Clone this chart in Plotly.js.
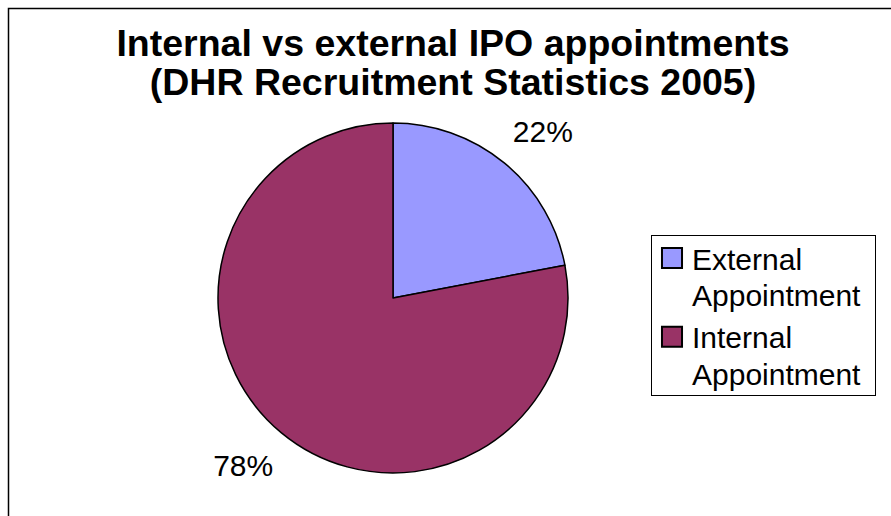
<!DOCTYPE html>
<html>
<head>
<meta charset="utf-8">
<script src="https://cdn.plot.ly/plotly-3.0.1.min.js"></script>
<style>
html,body{margin:0;padding:0;background:#fff;}
#chart{width:891px;height:516px;}
</style>
</head>
<body>
<div id="chart"></div>
<script>
// Data
const categories = ["External<br>Appointment", "Internal<br>Appointment"];
const shares = [22, 78];
const sliceColors = ["#9999FF", "#993366"];
const chartTitle = "Internal vs external IPO appointments<br>(DHR Recruitment Statistics 2005)";

const W = 891, H = 516;
const FONT = "Liberation Sans, Arial, Helvetica, sans-serif";
const PIE_CY = 298;

const trace = {
  type: "pie",
  labels: categories,
  values: shares,
  sort: false,
  direction: "clockwise",
  rotation: 0,
  textinfo: "percent",
  texttemplate: "%{percent:.0%}",
  textposition: "outside",
  outsidetextfont: {family: FONT, size: 30, color: "#000"},
  marker: {colors: sliceColors, line: {color: "#000", width: 1.5}},
  domain: {x: [218/W, 568/W], y: [43/H, 393/H]},
  hoverinfo: "none"
};

const layout = {
  width: W, height: H,
  margin: {l: 0, r: 0, t: 0, b: 0},
  paper_bgcolor: "#fff",
  font: {family: FONT, color: "#000"},
  title: {
    text: chartTitle,
    font: {family: FONT, size: 37.5, color: "#000", weight: "bold"},
    x: 453/W, xanchor: "center",
    yref: "container", y: 1 - 56/H, yanchor: "top"
  },
  showlegend: true,
  legend: {
    x: 651/W, xanchor: "left",
    y: 1 - 231/H, yanchor: "top",
    bordercolor: "#000", borderwidth: 1,
    bgcolor: "#fff",
    font: {family: FONT, size: 30, color: "#000"},
    valign: "top",
    tracegroupgap: 0
  },
  shapes: [{
    type: "rect", xref: "paper", yref: "paper",
    x0: 8.5/W, x1: 1.2, y0: -0.2, y1: 1 - 8.5/H,
    line: {color: "#000", width: 1.5}, fillcolor: "rgba(0,0,0,0)", layer: "below"
  }]
};

const gd = document.getElementById("chart");
Plotly.newPlot(gd, [trace], layout, {displayModeBar: false, staticPlot: true}).then(function(){
  // larger legend swatches
  gd.querySelectorAll(".legendpoints path").forEach(function(p){
    const t = p.getAttribute("transform") || "";
    p.setAttribute("transform", t + " scale(1.67)");
    p.style.strokeWidth = "1.2px";
  });
  // tighter legend line spacing
  gd.querySelectorAll(".legend text.legendtext").forEach(function(t){
    const ls = t.querySelectorAll("tspan.line");
    for (let i = 1; i < ls.length; i++) ls[i].setAttribute("dy", "1.22em");
  });
  const items = gd.querySelectorAll(".legend g.traces");
  items.forEach(function(g, i){
    if (i === 0) return;
    const m = /translate\(\s*([-\d.]+)[ ,]+([-\d.]+)\s*\)/.exec(g.getAttribute("transform") || "");
    if (m) g.setAttribute("transform", "translate(" + m[1] + "," + (parseFloat(m[2]) - 2.3 * i) + ")");
  });
  // legend box: slightly wider, a bit shorter
  gd.querySelectorAll(".legend rect.bg").forEach(function(r){
    const w = parseFloat(r.getAttribute("width"));
    const h = parseFloat(r.getAttribute("height"));
    const y = parseFloat(r.getAttribute("y") || 0);
    r.setAttribute("width", w + 8);
    r.setAttribute("y", y + 4);
    r.setAttribute("height", h - 13);
  });
  // tighter title line spacing
  const lines = gd.querySelectorAll(".gtitle tspan.line");
  for (let i = 1; i < lines.length; i++) lines[i].setAttribute("dy", "1.05em");
  // push percentage labels a bit further from the pie
  const top = gd.getBoundingClientRect().top;
  gd.querySelectorAll("g.slicetext").forEach(function(g){
    const r = g.getBoundingClientRect();
    const cy = (r.top + r.bottom) / 2 - top;
    const dy = cy < PIE_CY ? -22 : 23;
    g.setAttribute("transform", "translate(0," + dy + ")");
  });
});
</script>
</body>
</html>
